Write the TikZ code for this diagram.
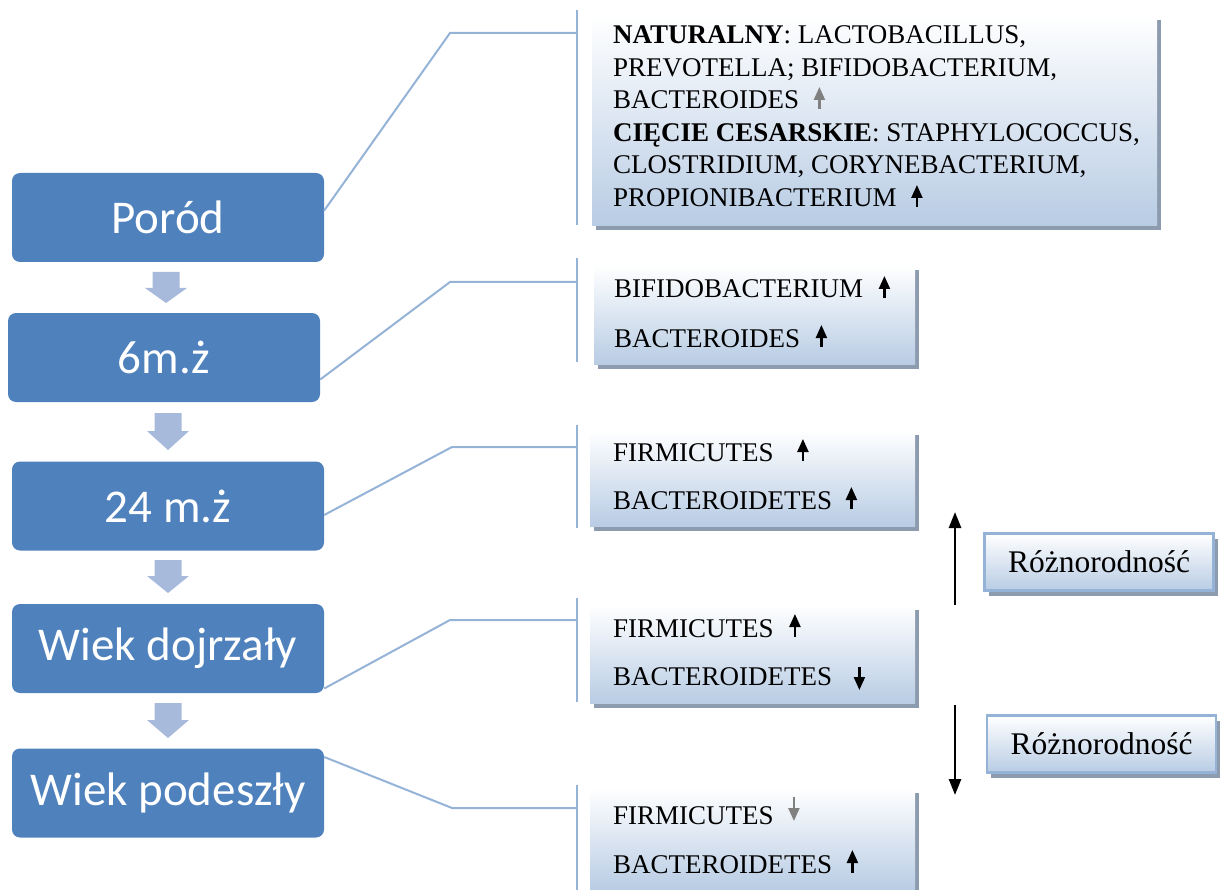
\documentclass[tikz,border=0pt]{standalone}
\usepackage{fontspec}
\setmainfont{Liberation Serif}
\newfontfamily\calibri{Carlito}
\usetikzlibrary{arrows.meta,shadows}
\definecolor{boxblue}{HTML}{4F81BD}
\definecolor{arrblue}{HTML}{A7BADB}
\definecolor{linkblue}{HTML}{95B3D7}
\definecolor{gradbot}{HTML}{B8CCE4}
\definecolor{shadowc}{HTML}{8D9BAF}
\definecolor{grayarr}{HTML}{808080}
\newcommand{\blockarr}[4]{\fill[arrblue] (#1-13.5,#2) -- (#1+13.5,#2) -- (#1+13.5,#3) -- (#1+21,#3) -- (#1,#4) -- (#1-21,#3) -- (#1-13.5,#3) -- cycle;}
\begin{document}
\begin{tikzpicture}[x=1pt,y=-1pt,
  stage/.style={fill=boxblue, rounded corners=8pt, minimum width=312pt, minimum height=89pt, inner sep=0pt, text=white, font=\calibri\fontsize{47}{52}\selectfont},
  infobox/.style={top color=white, bottom color=gradbot, inner sep=0pt, anchor=north west,
     drop shadow={shadow xshift=4pt, shadow yshift=-5pt, fill=shadowc, opacity=1}},
  rbox/.style={top color=white, bottom color=gradbot, draw=linkblue, line width=2.5pt, inner sep=0pt,
     minimum width=229pt, minimum height=57pt, font=\fontsize{31.5}{34}\selectfont,
     drop shadow={shadow xshift=4pt, shadow yshift=-5pt, fill=shadowc, opacity=1}},
  txt/.style={anchor=base west, inner sep=0pt, font=\fontsize{27}{30}\selectfont},
  conn/.style={draw=linkblue, line width=2pt},
  uparr/.style={-{Triangle[width=11pt,length=13pt]}, line width=2.2pt},
  bigarr/.style={-{Triangle[width=12pt,length=16pt]}, line width=2.5pt}]
\useasboundingbox (0,0) rectangle (1222,890);

% left stage boxes
\node[stage] (porod) at (168,217.5) {Poród};
\node[stage] (m6) at (164,357.5) {6m.ż};
\node[stage] (m24) at (168,506) {24 m.ż};
\node[stage] (dojr) at (168,648.5) {Wiek dojrzały};
\node[stage] (pode) at (168,793) {Wiek podeszły};

% block arrows
\blockarr{166}{272}{288}{303}
\blockarr{168}{413}{431}{450}
\blockarr{168}{560}{576}{593}
\blockarr{168}{703}{720}{738}

% brackets
\draw[conn] (577,10) -- (577,225);
\draw[conn] (577,258) -- (577,362);
\draw[conn] (577,425) -- (577,528);
\draw[conn] (577,598) -- (577,702);
\draw[conn] (577,785) -- (577,890);
\coordinate (b1) at (577,33);
\coordinate (b2) at (577,282);
\coordinate (b3) at (577,447);
\coordinate (b4) at (577,620);
\coordinate (b5) at (577,808);

% connectors
\draw[conn] ([yshift=7pt]porod.east) -- (450,33) -- (b1);
\draw[conn] ([yshift=-22pt]m6.east) -- (450,282) -- (b2);
\draw[conn] ([yshift=-9pt]m24.east) -- (452,447) -- (b3);
\draw[conn] ([yshift=-40pt]dojr.east) -- (450,620) -- (b4);
\draw[conn] ([yshift=36pt]pode.east) -- (452,808) -- (b5);

% info boxes
\node[infobox, minimum width=565pt, minimum height=210pt] (i1) at (592,15) {};
\node[infobox, minimum width=321pt, minimum height=99pt] (i2) at (594,265) {};
\node[infobox, minimum width=325pt, minimum height=96pt] (i3) at (590,430) {};
\node[infobox, minimum width=325pt, minimum height=98pt] (i4) at (590,605) {};
\node[infobox, minimum width=325pt, minimum height=102pt] (i5) at (590,788) {};

% box 1 text
\node[txt] (t11) at (613,44) {\textbf{NATURALNY}: LACTOBACILLUS,};
\node[txt] (t12) at (613,77) {PREVOTELLA; BIFIDOBACTERIUM,};
\node[txt] (t13) at (613,109) {BACTEROIDES};
\node[txt] (t14) at (613,142) {\textbf{CIĘCIE CESARSKIE}: STAPHYLOCOCCUS,};
\node[txt] (t15) at (613,174) {CLOSTRIDIUM, CORYNEBACTERIUM,};
\node[txt] (t16) at (613,207) {PROPIONIBACTERIUM};
\draw[uparr, draw=grayarr, fill=grayarr] ([xshift=20pt]t13.base east) -- ++(0,-22);
\draw[uparr] ([xshift=20pt]t16.base east) -- ++(0,-22);

% box 2 text
\node[txt] (t21) at (614,298) {BIFIDOBACTERIUM};
\node[txt] (t22) at (614,347) {BACTEROIDES};
\draw[uparr] ([xshift=21pt]t21.base east) -- ++(0,-22);
\draw[uparr] ([xshift=21pt]t22.base east) -- ++(0,-22);

% box 3 text
\node[txt] (t31) at (613,461) {FIRMICUTES};
\node[txt] (t32) at (613,509) {BACTEROIDETES};
\draw[uparr] ([xshift=29pt]t31.base east) -- ++(0,-22);
\draw[uparr] ([xshift=19pt]t32.base east) -- ++(0,-22);

% box 4 text
\node[txt] (t41) at (613,637) {FIRMICUTES};
\node[txt] (t42) at (613,685) {BACTEROIDETES};
\draw[uparr] ([xshift=21pt]t41.base east) -- ++(0,-23);
\draw[uparr] ([xshift=27pt,yshift=18pt]t42.base east) -- ++(0,23);

% box 5 text
\node[txt] (t51) at (613,824) {FIRMICUTES};
\node[txt] (t52) at (613,873) {BACTEROIDETES};
\draw[uparr, draw=grayarr, fill=grayarr] ([xshift=20pt,yshift=27pt]t51.base east) -- ++(0,24);
\draw[uparr] ([xshift=20pt]t52.base east) -- ++(0,-23);

% diversity
\node[rbox] (r1) at (1099,562) {Różnorodność};
\node[rbox] (r2) at (1101.5,744) {Różnorodność};
\coordinate (u1) at (955,605);
\coordinate (u2) at (955,512);
\coordinate (d1) at (955,705);
\coordinate (d2) at (955,795);
\draw[bigarr] (u1) -- (u2);
\draw[bigarr] (d1) -- (d2);
\end{tikzpicture}
\end{document}
